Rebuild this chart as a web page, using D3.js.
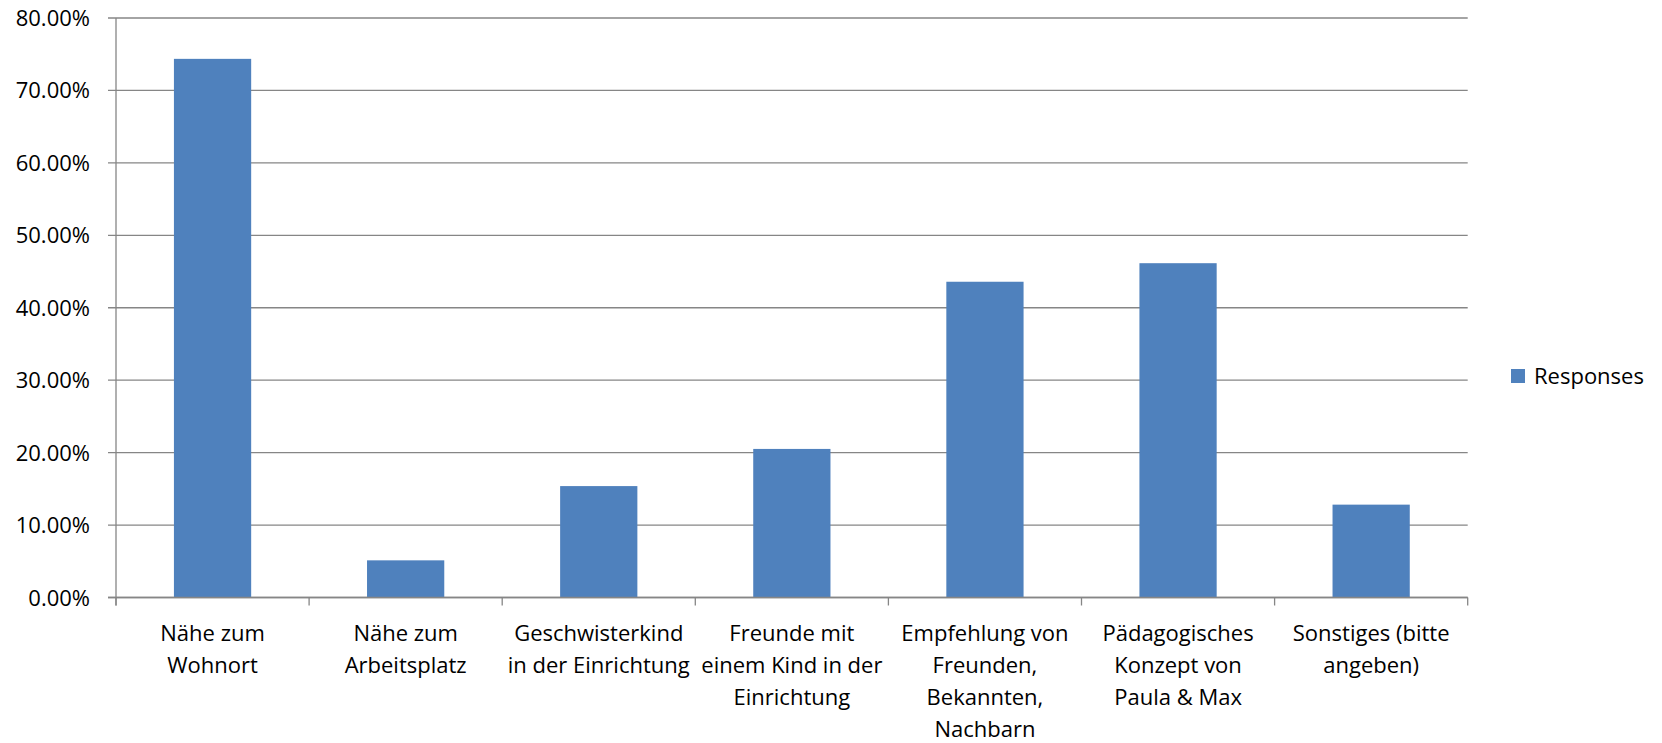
<!DOCTYPE html>
<html lang="de">
<head>
    <meta charset="UTF-8">
    <title>Responses</title>
    <script src="https://d3js.org/d3.v7.min.js"></script>
    <style>
        body {
            margin: 0;
            background: #fff;
            font-family: "Open Sans", sans-serif;
        }
        .grid line, .axis line, .axis path {
            stroke: #868686;
            stroke-width: 1.3;
        }
        text {
            fill: #000;
            font-size: 22px;
        }
    </style>
</head>
<body>
    <div id="chart"></div>

    <script>
        // Categories (line breaks as in the original labels)
        var categories = [
            "Nähe zum\nWohnort",
            "Nähe zum\nArbeitsplatz",
            "Geschwisterkind\nin der Einrichtung",
            "Freunde mit\neinem Kind in der\nEinrichtung",
            "Empfehlung von\nFreunden,\nBekannten,\nNachbarn",
            "Pädagogisches\nKonzept von\nPaula & Max",
            "Sonstiges (bitte\nangeben)"
        ];
        var responses = [0.7436, 0.0513, 0.1538, 0.2051, 0.4359, 0.4615, 0.1282];
        var yTicks = [0, 0.1, 0.2, 0.3, 0.4, 0.5, 0.6, 0.7, 0.8];
        var seriesName = "Responses";

        var width = 1662, height = 743;
        var plot = { left: 116, right: 1467.7, top: 18, bottom: 597.5 };

        var svg = d3.select("#chart")
            .append("svg")
            .attr("width", width)
            .attr("height", height);

        var x = d3.scaleBand()
            .domain(categories)
            .range([plot.left, plot.right])
            .paddingInner(0.6)
            .paddingOuter(0.3);

        var y = d3.scaleLinear()
            .domain([0, 0.8])
            .range([plot.bottom, plot.top]);

        // Horizontal gridlines with outside tick stubs
        svg.append("g")
            .attr("class", "grid")
            .selectAll("line")
            .data(yTicks)
            .enter()
            .append("line")
            .attr("x1", plot.left - 8)
            .attr("x2", plot.right)
            .attr("y1", d => y(d))
            .attr("y2", d => y(d));

        // Y tick labels
        svg.append("g")
            .selectAll("text")
            .data(yTicks)
            .enter()
            .append("text")
            .attr("x", 90)
            .attr("y", d => y(d) + 8)
            .attr("text-anchor", "end")
            .text(d => (d * 100).toFixed(2) + "%");

        // Bars
        svg.append("g")
            .selectAll("rect")
            .data(categories)
            .enter()
            .append("rect")
            .attr("x", d => x(d))
            .attr("width", x.bandwidth())
            .attr("y", (d, i) => y(responses[i]))
            .attr("height", (d, i) => y(0) - y(responses[i]))
            .attr("fill", "#4F81BD");

        // Axes lines
        var axis = svg.append("g").attr("class", "axis");
        axis.append("line")
            .attr("x1", plot.left).attr("x2", plot.left)
            .attr("y1", plot.top).attr("y2", plot.bottom + 8);
        axis.append("line")
            .attr("x1", plot.left - 8).attr("x2", plot.right)
            .attr("y1", plot.bottom).attr("y2", plot.bottom);

        // Category boundary ticks
        var step = x.step();
        axis.selectAll(".xtick")
            .data(d3.range(categories.length + 1))
            .enter()
            .append("line")
            .attr("x1", i => plot.left + i * step)
            .attr("x2", i => plot.left + i * step)
            .attr("y1", plot.bottom)
            .attr("y2", plot.bottom + 8);

        // Category labels
        svg.append("g")
            .selectAll("text")
            .data(categories)
            .enter()
            .append("text")
            .attr("text-anchor", "middle")
            .attr("transform", d => "translate(" + (x(d) + x.bandwidth() / 2) + ",640.5)")
            .each(function (d) {
                var t = d3.select(this);
                d.split("\n").forEach(function (line, i) {
                    t.append("tspan")
                        .attr("x", 0)
                        .attr("y", i * 32)
                        .text(line);
                });
            });

        // Legend
        var legend = svg.append("g").attr("transform", "translate(1511,369)");
        legend.append("rect")
            .attr("width", 14)
            .attr("height", 14)
            .attr("fill", "#4F81BD");
        legend.append("text")
            .attr("x", 23)
            .attr("y", 15)
            .text(seriesName);
    </script>
</body>
</html>
